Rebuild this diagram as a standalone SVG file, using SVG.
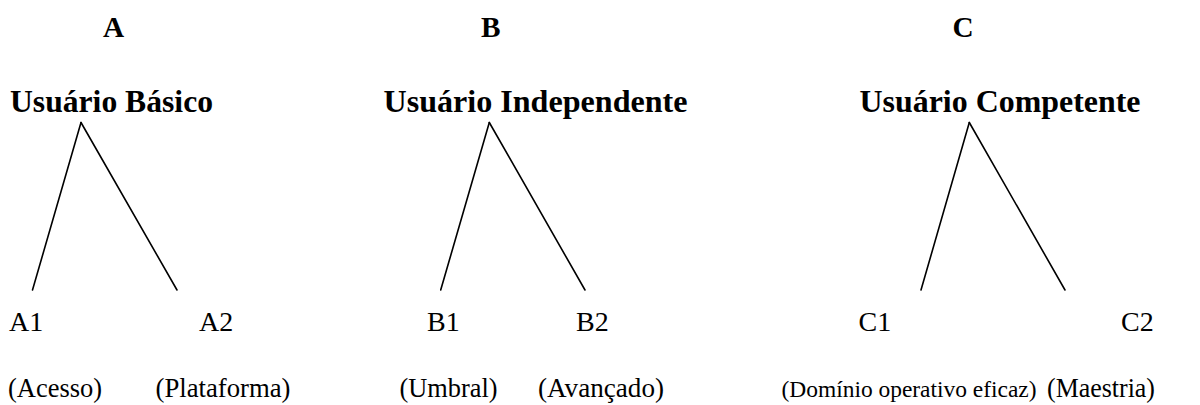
<svg xmlns="http://www.w3.org/2000/svg" width="1200" height="405" viewBox="0 0 1200 405">
<style>
.cat { font-size: 29.3px; font-weight: bold; }
.head { font-size: 32px; font-weight: bold; }
.lvl { font-size: 28px; }
.desc { font-size: 26.7px; }
.narrow { font-size: 24px; }
.edge { stroke: #000; stroke-width: 1.6; fill: none; stroke-linecap: round; }
</style>
<rect width="1200" height="405" fill="#fff"/>
<g font-family="Liberation Serif, Tinos, Times New Roman, serif" fill="#000">
<g id="cat-A"><text class="cat" x="103" y="37">A</text></g>
<g id="cat-B"><text class="cat" x="481" y="37">B</text></g>
<g id="cat-C"><text class="cat" x="952.5" y="37">C</text></g>

<g id="node-basico"><text class="head" x="10" y="112" textLength="203" lengthAdjust="spacingAndGlyphs">Usuário Básico</text></g>
<g id="node-independente"><text class="head" x="383.5" y="112" textLength="304" lengthAdjust="spacingAndGlyphs">Usuário Independente</text></g>
<g id="node-competente"><text class="head" x="859.5" y="112" textLength="281" lengthAdjust="spacingAndGlyphs">Usuário Competente</text></g>

<g id="node-A1"><text class="lvl" x="9" y="331">A1</text><text class="desc" x="8" y="397" textLength="94" lengthAdjust="spacingAndGlyphs">(Acesso)</text></g>
<g id="node-A2"><text class="lvl" x="199" y="331">A2</text><text class="desc" x="155.5" y="397" textLength="135" lengthAdjust="spacingAndGlyphs">(Plataforma)</text></g>
<g id="node-B1"><text class="lvl" x="427" y="331">B1</text><text class="desc" x="399.5" y="397" textLength="98" lengthAdjust="spacingAndGlyphs">(Umbral)</text></g>
<g id="node-B2"><text class="lvl" x="576" y="331">B2</text><text class="desc" x="538" y="397" textLength="126" lengthAdjust="spacingAndGlyphs">(Avançado)</text></g>
<g id="node-C1"><text class="lvl" x="858.5" y="331">C1</text><text class="desc narrow" x="781.5" y="397" textLength="255" lengthAdjust="spacingAndGlyphs">(Domínio operativo eficaz)</text></g>
<g id="node-C2"><text class="lvl" x="1121" y="331">C2</text><text class="desc" x="1047" y="397" textLength="108" lengthAdjust="spacingAndGlyphs">(Maestria)</text></g>
</g>

<g id="connectors">
<line class="edge" x1="81" y1="122.5" x2="32.5" y2="290"/>
<line class="edge" x1="81" y1="122.5" x2="177" y2="290"/>
<line class="edge" x1="489.3" y1="122.5" x2="440.7" y2="290"/>
<line class="edge" x1="489.3" y1="122.5" x2="585" y2="290"/>
<line class="edge" x1="969.3" y1="122.5" x2="921" y2="290"/>
<line class="edge" x1="969.3" y1="122.5" x2="1065" y2="290"/>
</g>
</svg>
